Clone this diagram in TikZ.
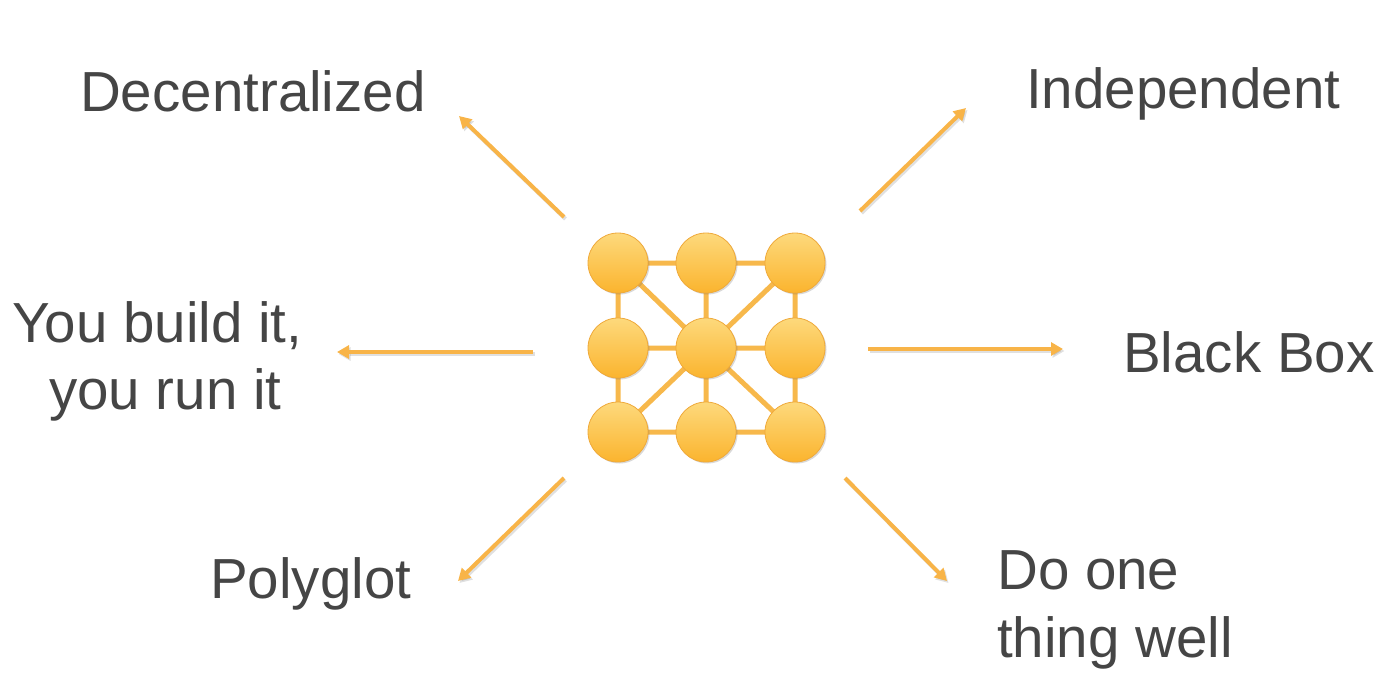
\documentclass[tikz,border=0pt]{standalone}
\usepackage{fontspec}
\setmainfont{Liberation Sans}
\usetikzlibrary{arrows.meta,shadows}
\pgfdeclarelayer{bg}
\pgfsetlayers{bg,main}
\definecolor{edgeor}{HTML}{F7B84B}
\definecolor{arrowor}{HTML}{F8B448}
\definecolor{circtop}{HTML}{FDD97C}
\definecolor{circbot}{HTML}{FBB42E}
\definecolor{circline}{HTML}{EFA93A}
\definecolor{txt}{HTML}{454545}
\begin{document}
\begin{tikzpicture}[x=1pt,y=-1pt,
  ball/.style={circle,minimum size=60pt,inner sep=0pt,draw=circline,line width=0.8pt,
    top color=circtop,bottom color=circbot,
    drop shadow={shadow xshift=1.5pt,shadow yshift=-1.5pt,opacity=0.25,fill=black!60}},
  link/.style={draw=edgeor,line width=5pt},
  ray/.style={draw=arrowor,line width=4pt,-{Triangle[length=12pt,width=13pt]}},
  raysh/.style={draw=black,opacity=0.12,line width=4pt,-{Triangle[length=12pt,width=13pt]}},
  label/.style={font=\fontsize{56.5}{67}\selectfont,text=txt,inner sep=0pt,anchor=base west}]
\useasboundingbox (0,0) rectangle (1398,693);
% grid nodes
\node[ball] (n11) at (618,263) {};
\node[ball] (n12) at (706,263) {};
\node[ball] (n13) at (795,263) {};
\node[ball] (n21) at (618,348) {};
\node[ball] (n22) at (706,348) {};
\node[ball] (n23) at (795,348) {};
\node[ball] (n31) at (618,432) {};
\node[ball] (n32) at (706,432) {};
\node[ball] (n33) at (795,432) {};
% links behind the balls
\begin{pgfonlayer}{bg}
\path[link] (n11.center)--(n12.center) (n12.center)--(n13.center)
  (n21.center)--(n22.center) (n22.center)--(n23.center)
  (n31.center)--(n32.center) (n32.center)--(n33.center)
  (n11.center)--(n21.center) (n21.center)--(n31.center)
  (n12.center)--(n22.center) (n22.center)--(n32.center)
  (n13.center)--(n23.center) (n23.center)--(n33.center)
  (n11.center)--(n22.center) (n13.center)--(n22.center)
  (n31.center)--(n22.center) (n33.center)--(n22.center);
\end{pgfonlayer}
% arrow coordinates
\coordinate (s1) at (564,217); \coordinate (t1) at (459,116);
\coordinate (s2) at (860,211); \coordinate (t2) at (966,108);
\coordinate (s3) at (533,352); \coordinate (t3) at (337,352);
\coordinate (s4) at (868,349); \coordinate (t4) at (1063,349);
\coordinate (s5) at (564,478); \coordinate (t5) at (458,581);
\coordinate (s6) at (845,478); \coordinate (t6) at (947,581);
\foreach \k in {1,...,6}{
  \draw[raysh] ([shift={(1.5,2)}]s\k) -- ([shift={(1.5,2)}]t\k);
  \draw[ray] (s\k) -- (t\k);
}
% labels
\node[label] (dec) at (80,111) {Decentralized};
\node[label] (ind) at (1026,108) {Independent};
\node[label] (yb1) at (12,342) {You build it,};
\node[label] (yb2) at (49,409) {you run it};
\node[label] (bb) at (1123,372) {Black Box};
\node[label] (poly) at (210,598) {Polyglot};
\node[label] (do1) at (997,589) {Do one};
\node[label] (do2) at (997,657) {thing well};
\end{tikzpicture}
\end{document}
